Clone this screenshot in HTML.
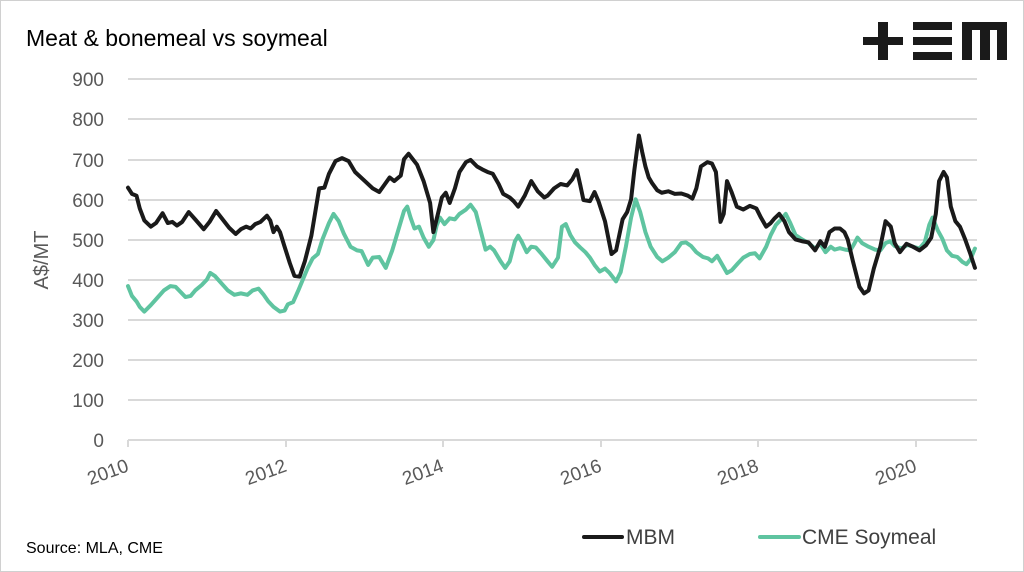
<!DOCTYPE html>
<html><head><meta charset="utf-8"><style>
html,body{margin:0;padding:0;background:#fff}
svg{display:block}
text{font-family:"Liberation Sans",sans-serif}
</style></head><body>
<svg width="1024" height="572" viewBox="0 0 1024 572" xmlns="http://www.w3.org/2000/svg">
<rect x="0.5" y="0.5" width="1023" height="571" fill="#fff" stroke="#d0d0d0"/>
<text x="26" y="46" font-size="23" fill="#000">Meat &amp; bonemeal vs soymeal</text>
<g fill="#1a1a1a">
<rect x="863" y="37" width="40" height="8"/><rect x="878" y="22" width="10" height="38"/>
<rect x="913" y="22" width="39" height="8"/><rect x="913" y="37" width="39" height="8"/><rect x="913" y="52" width="39" height="8"/>
<rect x="962" y="22" width="45" height="8"/><rect x="962" y="22" width="10" height="38"/><rect x="980" y="22" width="10" height="38"/><rect x="997" y="22" width="10" height="38"/>
</g>
<g stroke="#d9d9d9" stroke-width="2">
<line x1="128" x2="977" y1="79" y2="79"/><line x1="128" x2="977" y1="119" y2="119"/><line x1="128" x2="977" y1="160" y2="160"/><line x1="128" x2="977" y1="200" y2="200"/><line x1="128" x2="977" y1="240" y2="240"/><line x1="128" x2="977" y1="280" y2="280"/><line x1="128" x2="977" y1="320" y2="320"/><line x1="128" x2="977" y1="360" y2="360"/><line x1="128" x2="977" y1="400" y2="400"/><line x1="128" x2="977" y1="440" y2="440"/>
<line x1="128" x2="128" y1="440" y2="447"/><line x1="286" x2="286" y1="440" y2="447"/><line x1="443" x2="443" y1="440" y2="447"/><line x1="601" x2="601" y1="440" y2="447"/><line x1="758" x2="758" y1="440" y2="447"/><line x1="916" x2="916" y1="440" y2="447"/>
</g>
<g font-size="19" fill="#595959" text-anchor="end">
<text x="104" y="86">900</text><text x="104" y="126">800</text><text x="104" y="167">700</text><text x="104" y="207">600</text><text x="104" y="247">500</text><text x="104" y="287">400</text><text x="104" y="327">300</text><text x="104" y="367">200</text><text x="104" y="407">100</text><text x="104" y="447">0</text>
</g>
<text transform="translate(48,260) rotate(-90)" font-size="20" fill="#595959" text-anchor="middle">A$/MT</text>
<g font-size="19" fill="#595959" text-anchor="middle">
<text transform="translate(110,478) rotate(-20)">2010</text>
<text transform="translate(268,478) rotate(-20)">2012</text>
<text transform="translate(425,478) rotate(-20)">2014</text>
<text transform="translate(583,478) rotate(-20)">2016</text>
<text transform="translate(740,478) rotate(-20)">2018</text>
<text transform="translate(898,478) rotate(-20)">2020</text>
</g>
<g transform="matrix(0.6525,0,0,0.3646,-0.54,-1.21)" fill="none" stroke-linejoin="round" stroke-linecap="round">
<polyline vector-effect="non-scaling-stroke" stroke="#5fc4a0" stroke-width="4" points="197,788 203,815 210,830 215,845 222,858 232,840 242,820 252,800 262,788 270,790 278,805 285,818 293,815 300,800 310,785 318,770 323,752 330,760 340,780 350,800 360,812 370,808 380,812 388,800 397,795 405,812 412,830 420,845 430,858 437,855 442,838 450,832 458,800 465,770 472,740 480,712 488,700 495,660 505,615 512,590 520,610 528,645 538,680 548,690 555,692 565,730 572,710 582,708 592,738 602,690 612,630 620,582 625,570 630,600 636,630 643,625 650,655 658,680 665,662 670,622 675,600 682,618 690,602 698,605 705,590 715,578 722,565 730,585 738,640 745,688 752,680 758,690 768,720 775,738 782,720 790,665 795,650 800,665 808,695 815,680 822,682 830,698 840,720 847,735 856,710 862,625 868,618 875,648 882,668 890,682 898,695 905,710 912,730 920,748 928,740 935,752 945,775 952,750 960,680 968,600 975,550 982,585 990,640 998,680 1008,708 1016,720 1025,710 1035,695 1045,670 1052,668 1060,678 1068,695 1078,708 1086,712 1092,720 1100,705 1108,730 1115,752 1122,745 1132,725 1140,710 1150,700 1158,698 1165,712 1175,680 1182,648 1190,620 1198,605 1205,590 1212,615 1220,648 1230,660 1240,670 1250,685 1258,672 1266,695 1274,680 1280,688 1288,684 1296,688 1304,690 1310,672 1315,655 1322,670 1332,680 1342,688 1350,690 1358,670 1365,665 1372,678 1382,685 1392,675 1400,680 1410,685 1418,668 1425,620 1430,600 1438,635 1445,658 1452,690 1460,705 1468,708 1476,722 1482,728 1488,715 1495,685"/>
<polyline vector-effect="non-scaling-stroke" stroke="#1a1a1a" stroke-width="4" points="197,518 203,535 210,540 215,575 222,608 232,625 240,615 250,588 258,615 265,612 272,622 280,612 290,585 300,605 313,632 322,612 332,582 342,605 352,628 362,645 370,632 378,625 385,630 392,618 400,612 410,595 415,608 420,640 425,625 430,640 437,680 445,725 452,760 460,762 468,720 478,650 490,520 498,518 505,480 515,445 525,437 535,445 545,475 560,500 572,520 582,530 590,510 598,490 605,500 615,485 620,440 627,425 640,455 650,500 660,560 665,640 672,590 678,545 684,532 690,560 698,520 705,475 715,448 722,442 732,460 740,468 748,475 756,480 765,508 772,535 782,545 788,555 795,570 805,540 815,500 825,528 835,545 840,540 850,520 860,508 870,512 878,495 885,470 890,510 895,552 905,555 912,530 918,555 928,610 938,700 945,690 955,605 962,585 968,550 973,470 980,375 985,420 990,460 995,490 1000,505 1008,525 1015,532 1025,528 1035,535 1045,534 1055,540 1062,548 1068,520 1075,460 1085,448 1092,452 1098,475 1105,612 1110,590 1115,500 1122,530 1130,570 1140,578 1150,568 1160,575 1167,600 1175,625 1182,615 1188,602 1195,590 1203,610 1210,640 1220,660 1230,665 1240,668 1250,690 1258,665 1265,680 1272,640 1280,630 1288,630 1295,640 1300,660 1308,720 1318,790 1325,808 1332,800 1340,740 1350,680 1358,610 1366,625 1372,670 1380,695 1390,672 1400,680 1410,690 1420,676 1428,655 1435,590 1440,500 1447,475 1452,490 1458,570 1465,610 1472,625 1480,660 1488,700 1495,738"/>
</g>
<line x1="584" x2="622" y1="537" y2="537" stroke="#1a1a1a" stroke-width="4" stroke-linecap="round"/>
<text x="626" y="544" font-size="21" fill="#404040">MBM</text>
<line x1="760" x2="799" y1="537" y2="537" stroke="#5fc4a0" stroke-width="4" stroke-linecap="round"/>
<text x="802" y="544" font-size="21" fill="#404040">CME Soymeal</text>
<text x="26" y="553" font-size="16" fill="#000">Source: MLA, CME</text>
</svg>
</body></html>
